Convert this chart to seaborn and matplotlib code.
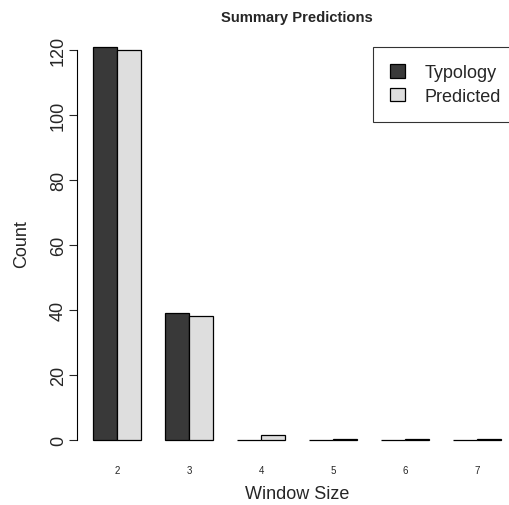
import pandas as pd
import seaborn as sns
from matplotlib import pyplot as plt

window_sizes = ['2', '3', '4', '5', '6', '7']
typology_counts = [121, 39, 0, 0, 0, 0]
predicted_counts = [120, 38, 1.6, 0.3, 0.2, 0.2]

df = pd.DataFrame({
    'window': window_sizes * 2,
    'count': typology_counts + predicted_counts,
    'source': ['Typology'] * 6 + ['Predicted'] * 6,
})

sns.set_style('white')
plt.rcParams['font.family'] = ['Liberation Sans', 'DejaVu Sans']

fig = plt.figure(figsize=(5.1, 5.06), dpi=100)
ax = fig.add_axes([77 / 510, 49.3 / 506, 440.5 / 510, 424.7 / 506])

sns.barplot(
    data=df, x='window', y='count', hue='source',
    palette=['#393939', '#dedede'], width=2 / 3,
    edgecolor='black', linewidth=0.9, ax=ax, legend=False,
)

ax.set_xlim(-0.562, 5.562)
ax.set_ylim(-4.84, 125.84)
for s in ['top', 'right', 'bottom']:
    ax.spines[s].set_visible(False)
ax.spines['left'].set_bounds(0, 120)
ax.spines['left'].set_color('black')
ax.spines['left'].set_linewidth(0.8)
ax.set_yticks(range(0, 121, 20))
ax.tick_params(axis='y', left=True, length=5.8, width=0.8, labelsize=13, pad=1.5)
for lbl in ax.get_yticklabels():
    lbl.set_rotation(90)
    lbl.set_va('center')
ax.tick_params(axis='x', bottom=False, labelsize=7, pad=3)

ax.set_xlabel('Window Size', fontsize=13, va='center')
ax.xaxis.set_label_coords(0.5, (456.7 - 495) / 424.7)
ax.set_ylabel('Count', fontsize=13, va='center')
ax.yaxis.set_label_coords((22 - 77) / 440.5, 0.5)
fig.text(297 / 510, 1 - 18 / 506, 'Summary Predictions', ha='center', va='center',
         fontsize=10.6, fontweight='bold')

handles = [
    plt.Rectangle((0, 0), 1, 1, facecolor='#393939', edgecolor='black', linewidth=0.9),
    plt.Rectangle((0, 0), 1, 1, facecolor='#dedede', edgecolor='black', linewidth=0.9),
]
leg = fig.legend(
    handles, ['Typology', 'Predicted'], loc='upper left',
    bbox_to_anchor=(373 / 510, 1 - 48 / 506), fontsize=13,
    frameon=True, fancybox=False, handlelength=0.8, handleheight=0.8,
    handletextpad=1.1, borderpad=0.95, labelspacing=0.35, borderaxespad=0,
)
leg.get_frame().set_edgecolor('black')
leg.get_frame().set_linewidth(0.8)

fig.savefig('out.png', dpi=100)
